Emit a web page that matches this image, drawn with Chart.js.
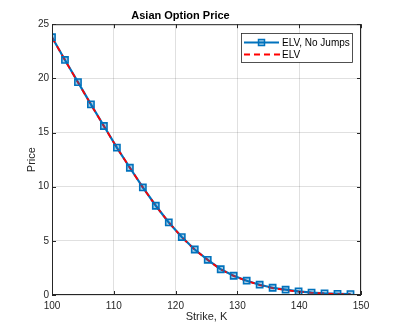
<!DOCTYPE html>
<html lang="en">
<head>
    <meta charset="UTF-8">
    <title>Asian Option Price</title>
    <script src="https://cdn.jsdelivr.net/npm/chart.js@4.4.1/dist/chart.umd.min.js"></script>
    <style>
        html, body { margin: 0; padding: 0; background: #fff; }
        #wrap { width: 399px; height: 332px; }
    </style>
</head>
<body>
    <div id="wrap"><canvas id="chart"></canvas></div>
    <script>
        // Strikes and prices
        const strikes = [100, 102.1, 104.2, 106.3, 108.4, 110.5, 112.6, 114.7, 116.8, 118.9, 121, 123.1,
                         125.2, 127.3, 129.4, 131.5, 133.6, 135.7, 137.8, 139.9, 142, 144.1, 146.2, 148.3];
        const priceNoJumps = [23.8, 21.7, 19.65, 17.6, 15.6, 13.6, 11.75, 9.93, 8.24, 6.7, 5.35, 4.2,
                              3.25, 2.38, 1.78, 1.32, 0.95, 0.67, 0.49, 0.33, 0.22, 0.15, 0.11, 0.08];
        const priceELV = [23.78, 21.68, 19.63, 17.58, 15.58, 13.6, 11.74, 9.92, 8.23, 6.7, 5.33, 4.18,
                          3.24, 2.36, 1.76, 1.3, 0.92, 0.64, 0.46, 0.31, 0.2, 0.14, 0.1, 0.07];
        const xTicks = [100, 110, 120, 130, 140, 150];
        const yTicks = [0, 5, 10, 15, 20, 25];

        const blue = '#0072BD';
        const red = '#FF0000';
        const markerFill = 'rgba(0,114,189,0.35)';
        const axisColor = '#262626';
        const fontFamily = '"Liberation Sans", Arial, Helvetica, sans-serif';

        const toPoints = (xs, ys) => xs.map((x, i) => ({ x: x, y: ys[i] }));

        // MATLAB-style box, inward ticks and legend
        const matlabAxes = {
            id: 'matlabAxes',
            afterDraw(chart) {
                const ctx = chart.ctx;
                const a = chart.chartArea;
                const xs = chart.scales.x, ys = chart.scales.y;
                ctx.save();
                ctx.strokeStyle = axisColor;
                ctx.lineWidth = 1;
                ctx.strokeRect(a.left + 0.5, a.top + 0.5, a.right - a.left - 1, a.bottom - a.top - 1);
                ctx.beginPath();
                xTicks.forEach(t => {
                    const px = Math.round(xs.getPixelForValue(t)) + 0.5;
                    ctx.moveTo(px, a.bottom); ctx.lineTo(px, a.bottom - 4);
                    ctx.moveTo(px, a.top); ctx.lineTo(px, a.top + 4);
                });
                yTicks.forEach(t => {
                    const py = Math.round(ys.getPixelForValue(t)) + 0.5;
                    ctx.moveTo(a.left, py); ctx.lineTo(a.left + 4, py);
                    ctx.moveTo(a.right, py); ctx.lineTo(a.right - 4, py);
                });
                ctx.stroke();

                // legend
                const lx = 241, ly = 33, lw = 111, lh = 29;
                ctx.fillStyle = '#fff';
                ctx.fillRect(lx, ly, lw, lh);
                ctx.strokeStyle = axisColor;
                ctx.lineWidth = 0.8;
                ctx.strokeRect(lx + 0.5, ly + 0.5, lw, lh);

                const d0 = chart.data.datasets[0], d1 = chart.data.datasets[1];
                const rows = [ly + 9.5, ly + 21.5];
                ctx.font = '10px ' + fontFamily;
                ctx.textBaseline = 'middle';
                ctx.textAlign = 'left';

                ctx.strokeStyle = blue;
                ctx.lineWidth = 2;
                ctx.setLineDash([]);
                ctx.beginPath(); ctx.moveTo(244, rows[0]); ctx.lineTo(279, rows[0]); ctx.stroke();
                ctx.fillStyle = markerFill;
                ctx.lineWidth = 1.5;
                ctx.fillRect(258.5, rows[0] - 3, 6, 6);
                ctx.strokeRect(258.5, rows[0] - 3, 6, 6);
                ctx.fillStyle = '#000';
                ctx.fillText(d0.label, 282, rows[0] + 0.5);

                ctx.strokeStyle = red;
                ctx.lineWidth = 2;
                ctx.setLineDash([6, 4]);
                ctx.beginPath(); ctx.moveTo(244, rows[1]); ctx.lineTo(280, rows[1]); ctx.stroke();
                ctx.setLineDash([]);
                ctx.fillText(d1.label, 282, rows[1] + 0.5);
                ctx.restore();
            }
        };

        const ctx = document.getElementById('chart').getContext('2d');
        new Chart(ctx, {
            type: 'line',
            data: {
                datasets: [
                    {
                        label: 'ELV, No Jumps',
                        data: toPoints(strikes, priceNoJumps),
                        borderColor: blue,
                        borderWidth: 2.2,
                        pointRadius: 0,
                        tension: 0,
                        order: 3
                    },
                    {
                        label: 'ELV',
                        data: toPoints(strikes, priceELV),
                        borderColor: red,
                        borderWidth: 1.8,
                        borderDash: [6, 4],
                        pointRadius: 0,
                        tension: 0,
                        order: 2
                    },
                    {
                        label: 'markers',
                        data: toPoints(strikes, priceNoJumps),
                        showLine: false,
                        pointStyle: 'rect',
                        pointRadius: 4.4,
                        pointBorderWidth: 1.6,
                        pointBorderColor: blue,
                        pointBackgroundColor: markerFill,
                        order: 1
                    }
                ]
            },
            options: {
                responsive: true,
                maintainAspectRatio: false,
                animation: false,
                layout: { padding: { left: 0, right: 38, top: 0, bottom: 0 } },
                plugins: {
                    legend: { display: false },
                    tooltip: { enabled: false },
                    title: {
                        display: true,
                        text: 'Asian Option Price',
                        color: '#000',
                        font: { family: fontFamily, size: 11, weight: 'bold' },
                        padding: { top: 9, bottom: 2 }
                    }
                },
                scales: {
                    x: {
                        type: 'linear',
                        min: 100,
                        max: 150,
                        afterFit: s => { s.height = 37; },
                        afterBuildTicks: s => { s.ticks = xTicks.map(v => ({ value: v })); },
                        ticks: { color: axisColor, font: { family: fontFamily, size: 10 }, padding: 5, maxRotation: 0 },
                        grid: { color: 'rgba(0,0,0,0.12)', drawTicks: false },
                        border: { display: false },
                        title: {
                            display: true,
                            text: 'Strike, K',
                            color: axisColor,
                            font: { family: fontFamily, size: 11 },
                            padding: { top: 0, bottom: 8 }
                        }
                    },
                    y: {
                        min: 0,
                        max: 25,
                        afterFit: s => { s.width = 52; },
                        afterBuildTicks: s => { s.ticks = yTicks.map(v => ({ value: v })); },
                        ticks: { color: axisColor, font: { family: fontFamily, size: 10 }, padding: 3 },
                        grid: { color: 'rgba(0,0,0,0.12)', drawTicks: false },
                        border: { display: false },
                        title: {
                            display: true,
                            text: 'Price',
                            color: axisColor,
                            font: { family: fontFamily, size: 11 },
                            padding: { top: 25, bottom: 0 }
                        }
                    }
                }
            },
            plugins: [matlabAxes]
        });
    </script>
</body>
</html>
